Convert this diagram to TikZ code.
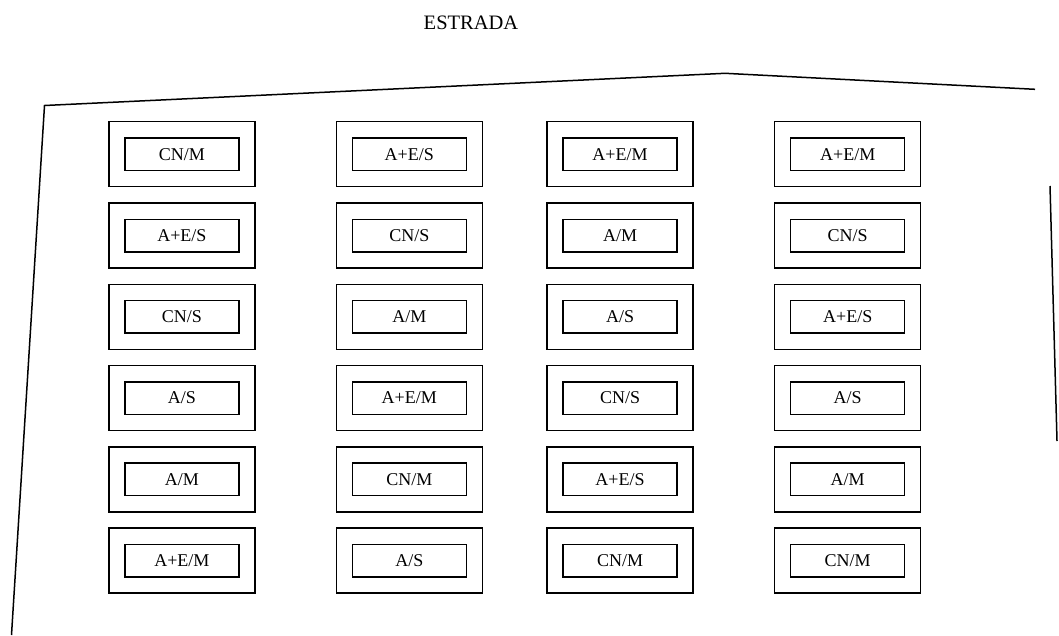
\documentclass[tikz,border=0pt]{standalone}
\usepackage{fontspec}
\setmainfont{Liberation Serif}
\begin{document}
\begin{tikzpicture}[x=1pt,y=-1pt,
  outerbox/.style={draw,line width=1.5pt,minimum width=146pt,minimum height=65pt,inner sep=0pt},
  innerbox/.style={draw,line width=1.5pt,minimum width=114pt,minimum height=32.5pt,inner sep=0pt,font=\fontsize{18}{20}\selectfont},
  wall/.style={line width=1.5pt}]
\useasboundingbox (0,0) rectangle (1059,635);
\node[font=\fontsize{20.5}{22}\selectfont] (title) at (471,23) {ESTRADA};
\coordinate (bl) at (11.5,635);
\coordinate (tl) at (44.5,105.5);
\coordinate (peak) at (725,73.3);
\coordinate (tr) at (1035,89.3);
\coordinate (rt) at (1050,186);
\coordinate (rb) at (1057,441);
\draw[wall] (bl) -- (tl) -- (peak) -- (tr);
\draw[wall] (rt) -- (rb);
\foreach \r/\y/\a/\b/\c/\d in {
  1/154.2/CN\slash M/A+E\slash S/A+E\slash M/A+E\slash M,
  2/235.5/A+E\slash S/CN\slash S/A\slash M/CN\slash S,
  3/316.8/CN\slash S/A\slash M/A\slash S/A+E\slash S,
  4/398.1/A\slash S/A+E\slash M/CN\slash S/A\slash S,
  5/479.4/A\slash M/CN\slash M/A+E\slash S/A\slash M,
  6/560.7/A+E\slash M/A\slash S/CN\slash M/CN\slash M}{
  \node[outerbox] (o\r a) at (181.9,\y) {};
  \node[innerbox] (i\r a) at (o\r a.center) {\a};
  \node[outerbox] (o\r b) at (409.3,\y) {};
  \node[innerbox] (i\r b) at (o\r b.center) {\b};
  \node[outerbox] (o\r c) at (620,\y) {};
  \node[innerbox] (i\r c) at (o\r c.center) {\c};
  \node[outerbox] (o\r d) at (847.7,\y) {};
  \node[innerbox] (i\r d) at (o\r d.center) {\d};
}
\end{tikzpicture}
\end{document}
